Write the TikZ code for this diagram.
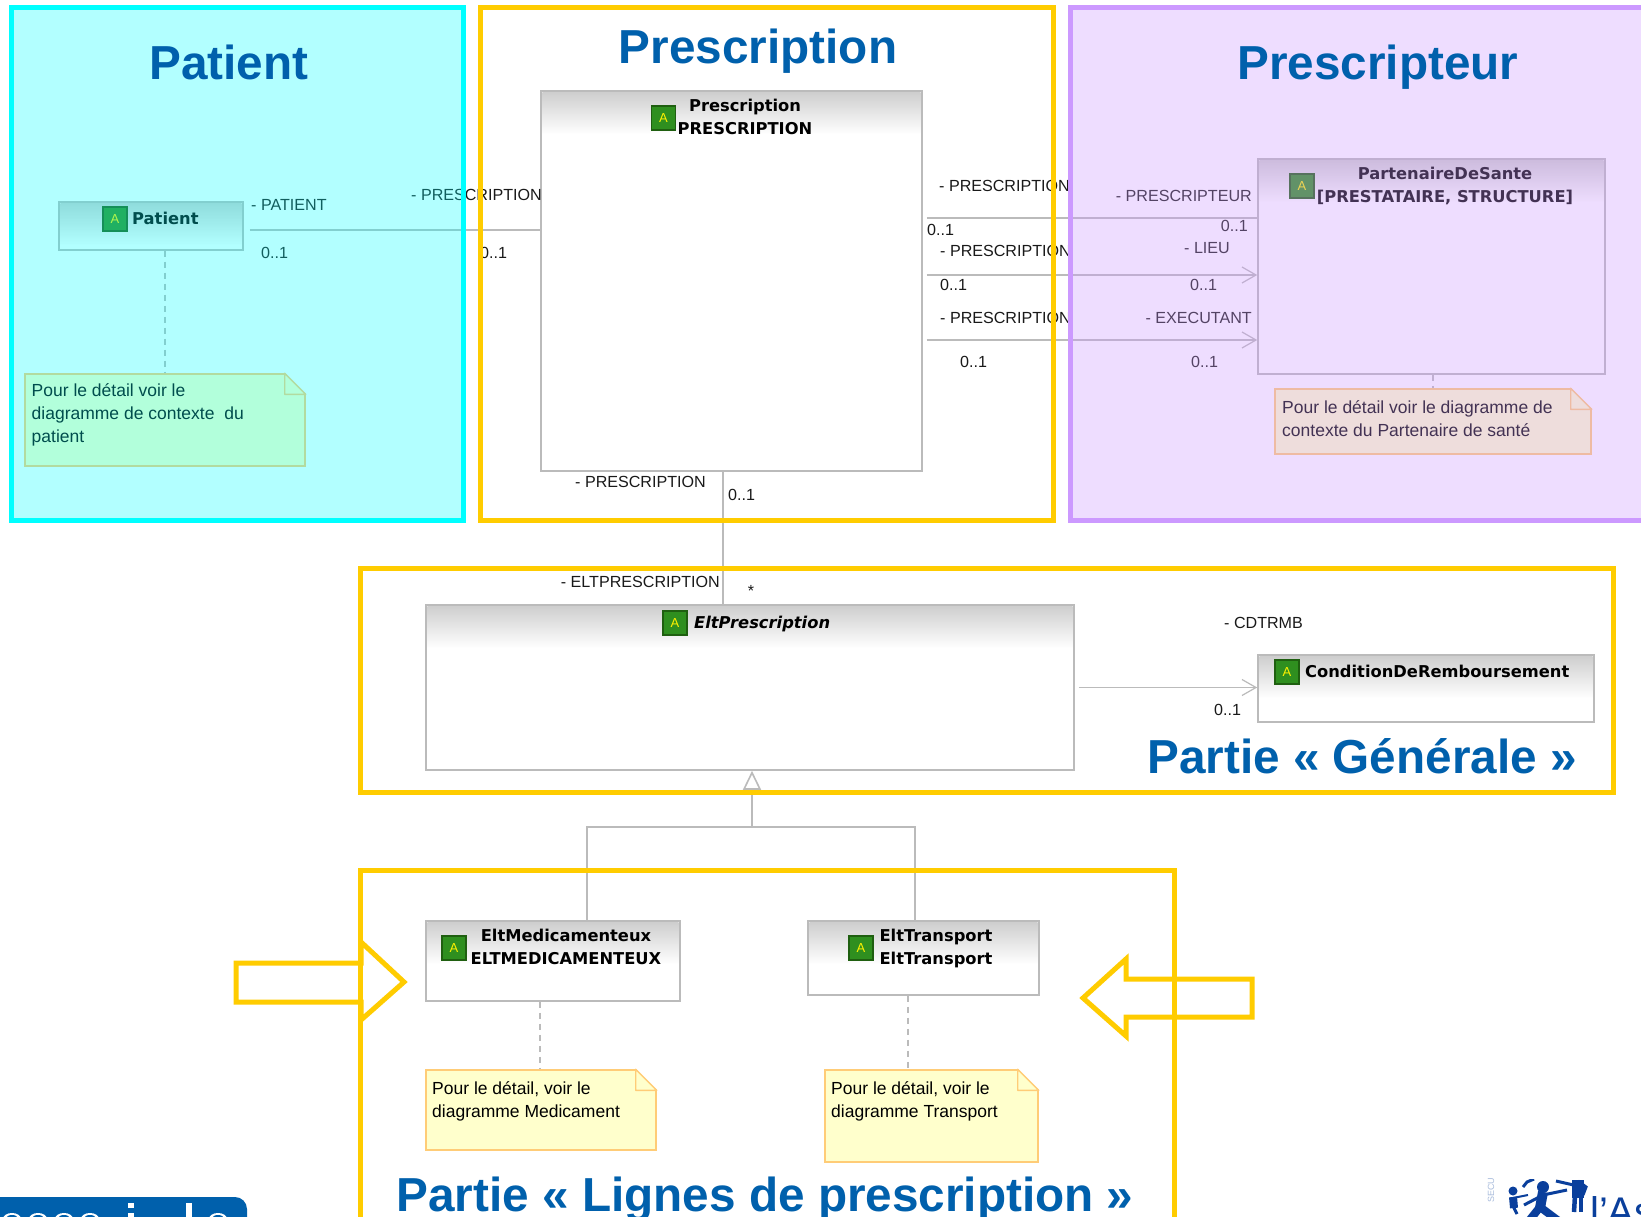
\documentclass[tikz,border=0pt]{standalone}
\usepackage{fontspec}
\setmainfont{Liberation Sans}
\newfontfamily\classfont{DejaVu Sans}
\usetikzlibrary{arrows.meta}
\definecolor{frameyellow}{HTML}{FFCC00}
\definecolor{framecyan}{HTML}{00FFFF}
\definecolor{framepurple}{HTML}{CC99FF}
\definecolor{titleblue}{HTML}{0060AC}
\definecolor{logoblue}{HTML}{0A3F9C}
\definecolor{umlgray}{HTML}{BBBBBB}
\definecolor{notefill}{HTML}{FFFFCC}
\definecolor{noteline}{HTML}{FFCC77}
\definecolor{iconfill}{HTML}{2F8F1F}
\definecolor{iconline}{HTML}{1F5F10}
\begin{document}
\begin{tikzpicture}[x=1pt,y=-1pt]
\tikzstyle{classbox} = [rectangle, draw=umlgray, line width=1.6pt, fill=white, inner sep=0pt]
\tikzstyle{classname} = [inner sep=0pt, align=center, font=\fontsize{16.3}{23}\selectfont\classfont\bfseries]
\tikzstyle{icon} = [rectangle, draw=iconline, line width=1.6pt, fill=iconfill, text=yellow, inner sep=0pt, minimum size=24pt, font=\fontsize{13}{13}\selectfont]
\tikzstyle{notebox} = [rectangle, draw=noteline, line width=1.4pt, fill=notefill, inner sep=0pt]
\tikzstyle{notetext} = [inner sep=0pt, align=left, font=\fontsize{17.5}{23}\selectfont]
\tikzstyle{role} = [inner sep=0pt, text=black!90, font=\fontsize{16.1}{18}\selectfont]
\tikzstyle{edge} = [draw=umlgray, line width=1.3pt]
\tikzstyle{navedge} = [edge, -{Straight Barb[length=14pt, width=16pt, line width=1.2pt]}]
\tikzstyle{noteedge} = [edge, dashed, dash pattern=on 6pt off 5pt]
\tikzstyle{zonetitle} = [inner sep=0pt, text=titleblue, font=\fontsize{47.7}{50}\selectfont\bfseries]
\tikzstyle{yellowzone} = [draw=frameyellow, line width=5pt]
\path[use as bounding box, clip] (0,0) rectangle (1641,1217);
\fill[white] (0,0) rectangle (1641,1217);

\node[classbox, minimum width=184pt, minimum height=48pt] (patient) at (151,226) {};
\node[classbox, minimum width=381pt, minimum height=380pt] (prescription) at (731.5,281) {};
\node[classbox, minimum width=347pt, minimum height=215pt] (partenaire) at (1431.5,266.5) {};
\node[classbox, minimum width=648pt, minimum height=165pt] (eltpres) at (750,687.5) {};
\node[classbox, minimum width=336pt, minimum height=67pt] (condition) at (1426,688.5) {};
\node[classbox, minimum width=254pt, minimum height=80pt] (eltmed) at (553,961) {};
\node[classbox, minimum width=231pt, minimum height=74pt] (elttrans) at (923.5,958) {};
\foreach \n in {patient, prescription, partenaire, eltpres, condition, eltmed, elttrans} {
  \shade[top color=black!19, bottom color=white] ([shift={(2.2,2.2)}]\n.north west) rectangle ([shift={(-2.2,44)}]\n.north east);
}

\node[icon] (iconpatient) at (115,219) {A};
\node[icon] (iconprescription) at (663.5,118) {A};
\node[icon] (iconpartenaire) at (1302,186) {A};
\node[icon] (iconeltpres) at (675,623) {A};
\node[icon] (iconcondition) at (1287,672) {A};
\node[icon] (iconeltmed) at (454,948) {A};
\node[icon] (iconelttrans) at (861,948) {A};

\node[classname, anchor=west] (namepatient) at (132,218) {Patient};
\node[classname] (nameprescription) at (745,117) {Prescription\\PRESCRIPTION};
\node[classname] (namepartenaire) at (1445,186) {PartenaireDeSante\\{}[PRESTATAIRE, STRUCTURE]};
\node[classname, anchor=west, font=\fontsize{16.3}{23}\selectfont\classfont\bfseries\itshape] (nameeltpres) at (694,624) {EltPrescription};
\node[classname, anchor=west] (namecondition) at (1305,671) {ConditionDeRemboursement};
\node[classname] (nameeltmed) at (566,947) {EltMedicamenteux\\ELTMEDICAMENTEUX};
\node[classname] (nameelttrans) at (936,948) {EltTransport\\EltTransport};

\node[notebox, minimum width=280pt, minimum height=92pt] (notepatient) at (165,420) {};
\node[notebox, minimum width=316pt, minimum height=65pt] (notepartenaire) at (1433,421.5) {};
\node[notebox, minimum width=230pt, minimum height=80pt] (notemed) at (541,1110) {};
\node[notebox, minimum width=213pt, minimum height=92pt] (notetrans) at (931.5,1116) {};
\foreach \n in {notepatient, notepartenaire, notemed, notetrans} {
  \fill[white] ([shift={(-21,-1)}]\n.north east) -- ([shift={(1,-1)}]\n.north east) -- ([shift={(1,21)}]\n.north east) -- cycle;
  \draw[draw=noteline, line width=1.4pt, line join=round] ([xshift=-21pt]\n.north east) -- ++(0,21) -- ++(21,0) -- cycle;
}
\node[notetext, anchor=west] (textpatient) at (31.5,415) {Pour le détail voir le\\diagramme de contexte~ du\\patient};
\node[notetext, anchor=west] (textpartenaire) at (1282,419) {Pour le détail voir le diagramme de\\contexte du Partenaire de santé};
\node[notetext, anchor=west] (textmed) at (432,1101) {Pour le détail, voir le\\diagramme Medicament};
\node[notetext, anchor=west] (texttrans) at (831,1101) {Pour le détail, voir le\\diagramme Transport};

\draw[edge] ([shift={(6,4)}]patient.east) -- (prescription.west |- 0,230);
\draw[edge] ([xshift=4pt]prescription.east |- 0,218) -- (partenaire.west |- 0,218);
\draw[navedge] ([xshift=4pt]prescription.east |- 0,275) -- (partenaire.west |- 0,275);
\draw[navedge] ([xshift=4pt]prescription.east |- 0,340) -- (partenaire.west |- 0,340);
\draw[edge] (prescription.south -| 723,0) -- (eltpres.north -| 723,0);
\draw[navedge] ([xshift=4pt]eltpres.east) -- (condition.west |- eltpres.east);
\draw[noteedge] (patient.south -| notepatient.north) -- (notepatient.north);
\draw[noteedge] (partenaire.south -| notepartenaire.north) -- (notepartenaire.north);
\draw[noteedge] (eltmed.south -| 540,0) -- (notemed.north -| 540,0);
\draw[noteedge] (elttrans.south -| 908,0) -- (notetrans.north -| 908,0);

\coordinate (tree) at (752,827);
\draw[edge] (eltmed.north -| 587,0) -- (587,827) -- (915,827) -- (elttrans.north -| 915,0);
\draw[edge, line width=2.2pt, -{Triangle[open, length=19pt, width=18pt, line width=1.6pt]}] (tree) -- (eltpres.south -| tree);

\node[role, anchor=west] (rolepatient) at (251,205) {- PATIENT};
\node[role, anchor=west] (cardpatient) at (261,253) {0..1};
\node[role, anchor=east] (roleprespatient) at (542,195) {- PRESCRIPTION};
\node[role, anchor=west] (cardprespatient) at (480,253) {0..1};
\node[role, anchor=west] (rolepres1) at (939,186) {- PRESCRIPTION};
\node[role, anchor=west] (cardpres1) at (927,230) {0..1};
\node[role, anchor=east] (rolepresc) at (1252,196) {- PRESCRIPTEUR};
\node[role, anchor=east] (cardpresc) at (1248,226) {0..1};
\node[role, anchor=west] (rolepres2) at (940,251) {- PRESCRIPTION};
\node[role, anchor=west] (cardpres2) at (940,285) {0..1};
\node[role, anchor=west] (rolelieu) at (1184,248) {- LIEU};
\node[role, anchor=west] (cardlieu) at (1190,285) {0..1};
\node[role, anchor=west] (rolepres3) at (940,318) {- PRESCRIPTION};
\node[role, anchor=east] (roleexec) at (1252,318) {- EXECUTANT};
\node[role, anchor=west] (cardpres3) at (960,362) {0..1};
\node[role, anchor=west] (cardexec) at (1191,362) {0..1};
\node[role, anchor=west] (rolepres4) at (575,482) {- PRESCRIPTION};
\node[role, anchor=west] (cardpres4) at (728,495) {0..1};
\node[role, anchor=east] (roleelt) at (720,582) {- ELTPRESCRIPTION};
\node[role] (cardelt) at (751,591) {*};
\node[role, anchor=west] (rolecdt) at (1224,623) {- CDTRMB};
\node[role, anchor=west] (cardcdt) at (1214,710) {0..1};

\draw[draw=framecyan, line width=5pt, fill=framecyan, fill opacity=0.3] (11,8) rectangle (463.5,520.5);
\draw[draw=framepurple, line width=5pt, fill=framepurple, fill opacity=0.33] (1070,8) rectangle (1650,520.5);
\draw[yellowzone] (480.5,8) rectangle (1053.5,520.5);
\draw[yellowzone] (360,568.5) rectangle (1613.5,792.5);
\draw[yellowzone] (360,870.5) rectangle (1174,1230);

\draw[yellowzone, miter limit=10] (236,963) -- (361,963) -- (361,942) -- (404,982) -- (361,1020) -- (361,1002) -- (236,1002) -- cycle;
\draw[yellowzone, miter limit=10] (1252,979) -- (1126,979) -- (1126,959) -- (1083,998) -- (1126,1036) -- (1126,1017) -- (1252,1017) -- cycle;

\node[zonetitle] (titlepatient) at (229,62) {Patient};
\node[zonetitle] (titleprescription) at (758,51) {Prescription};
\node[zonetitle] (titleprescripteur) at (1378,67) {Prescripteur};
\node[zonetitle] (titlegenerale) at (1362,756) {Partie « Générale »};
\node[zonetitle] (titlelignes) at (765,1199) {Partie « Lignes de prescription »};

\fill[titleblue, rounded corners=12pt] (-20,1197) rectangle (247,1245);
\foreach \x in {12,38,64,90,218} {
  \fill[white] (\x,1219) ellipse (9 and 6);
  \fill[titleblue] (\x,1218.5) ellipse (6 and 3.5);
}
\fill[white] (128,1203) rectangle (134,1208);
\fill[white] (128,1213) rectangle (134,1217);
\fill[white] (186,1203) rectangle (192,1217);

\node[inner sep=0pt, text=logoblue!35, rotate=90, font=\fontsize{9}{9}\selectfont] (logosecu) at (1491,1190) {SECU};
\node[inner sep=0pt, anchor=base west, text=logoblue, font=\fontsize{40}{40}\selectfont] (logotext) at (1590,1225) {l’As};
\begin{scope}
\clip (1500,1179) rectangle (1641,1217);
\fill[logoblue] (1543,1187) circle (6);
\draw[logoblue, line width=10pt] (1543,1192) -- (1540,1208);
\draw[logoblue, line width=3pt] (1524,1205) -- (1543,1195) -- (1567,1190);
\draw[logoblue, line width=8pt] (1528,1222) -- (1540,1207) -- (1560,1222);
\draw[logoblue, line width=12pt] (1578,1180) -- (1578,1198);
\draw[logoblue, line width=4.5pt] (1575,1195) -- (1574,1212);
\draw[logoblue, line width=4.5pt] (1581,1195) -- (1581,1212);
\draw[logoblue, line width=3pt] (1556,1181) -- (1578,1186);
\draw[logoblue, line width=3pt] (1578,1181) -- (1586,1187) -- (1583,1195);
\fill[logoblue] (1513,1191) circle (4.5);
\draw[logoblue, line width=8pt] (1513,1197) -- (1514,1208);
\draw[logoblue, line width=3pt] (1513,1206) -- (1517,1214);
\draw[logoblue, line width=2pt] (1513,1198) -- (1528,1195);
\draw[logoblue, line width=3pt] (1534,1179) -- (1527,1182) -- (1523,1187);
\end{scope}
\end{tikzpicture}
\end{document}
